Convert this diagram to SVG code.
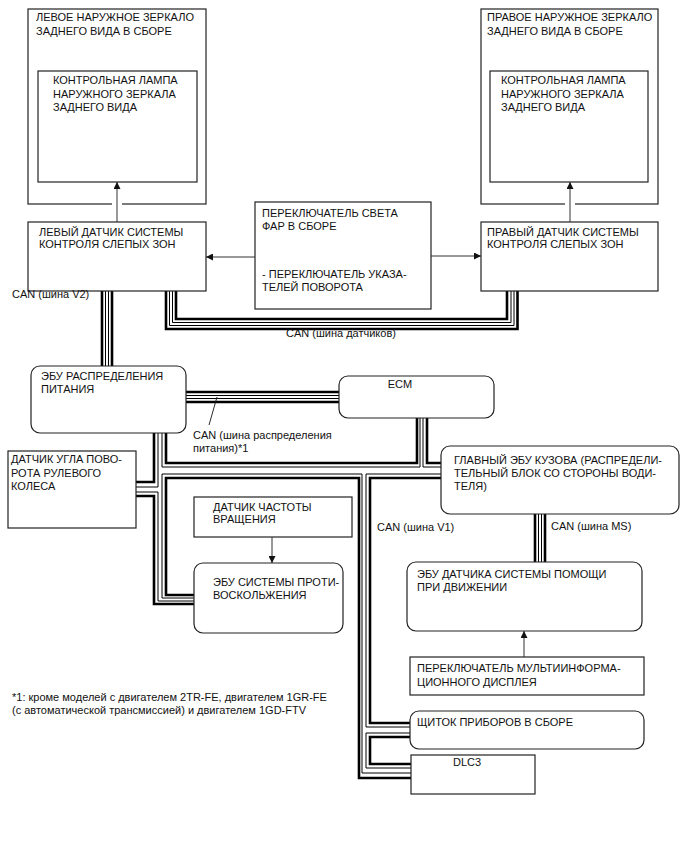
<svg xmlns="http://www.w3.org/2000/svg" width="688" height="852" viewBox="0 0 688 852">
<defs>
<marker id="ah" viewBox="0 0 10 10" refX="10" refY="5" markerWidth="7" markerHeight="7" markerUnits="userSpaceOnUse" orient="auto">
<path d="M0,0 L10,5 L0,10 z" fill="#111"/>
</marker>
<style>
.box{fill:#fff;stroke:#222;stroke-width:1.2}
.t{font-family:"Liberation Sans",Arial,sans-serif;font-size:11px;fill:#111}
.arr{stroke:#333;stroke-width:1;fill:none;marker-end:url(#ah)}
.tk{fill:none;stroke:#000;stroke-width:2.6}
.tn{fill:none;stroke:#000;stroke-width:1}
.gap{stroke:#fff;stroke-width:2}
</style>
</defs>
<rect width="688" height="852" fill="#fff"/>

<g id="connectors">
<!-- sensor bus -->
<path class="tk" d="M176,291 V319 H507 V291"/>
<path class="tn" d="M172.5,291 V322.5 H511 V291"/>
<path class="tn" d="M169.5,291 V325.5 H514 V291"/>
<path class="tk" d="M166,291 V329 H517.5 V291"/>
<!-- V2 -->
<path class="tk" d="M102,291 V366"/>
<path class="tn" d="M105.5,291 V366"/>
<path class="tn" d="M108.5,291 V366"/>
<path class="tk" d="M112,291 V366"/>
<!-- power dist to ECM -->
<path class="tk" d="M186,392 H339"/>
<path class="tn" d="M186,395.5 H339"/>
<path class="tn" d="M186,398.5 H339"/>
<path class="tk" d="M186,402 H339"/>
<line x1="217" y1="397" x2="209" y2="425" stroke="#111" stroke-width="0.9"/>
<!-- trunk -->
<path class="tk" d="M154,433 V482 H136"/>
<path class="tn" d="M158,433 V487 H136"/>
<path class="tn" d="M162,433 V467 H420 V418"/>
<path class="tk" d="M166,433 V463 H417 V418"/>
<path class="tn" d="M423,418 V467 H441"/>
<path class="tk" d="M427,418 V463 H441"/>
<path class="tn" d="M136,492 H158 V601 H194"/>
<path class="tk" d="M136,496 H154 V604 H194"/>
<path class="tn" d="M194,598 H162 V474 H362 V773 H411"/>
<path class="tk" d="M194,595 H166 V478 H359 V778 H411"/>
<path class="tn" d="M441,474 H366 V727 H410"/>
<path class="tk" d="M441,478 H370 V723 H410"/>
<path class="tn" d="M410,733 H366 V768 H411"/>
<path class="tk" d="M410,737 H370 V764 H411"/>
<!-- MS -->
<path class="tk" d="M535,514 V562"/>
<path class="tn" d="M538.5,514 V562"/>
<path class="tn" d="M541.5,514 V562"/>
<path class="tk" d="M545,514 V562"/>
</g>

<g id="mirror-left">
<rect class="box" x="28" y="9" width="178" height="195"/>
<text class="t" x="36" y="21">ЛЕВОЕ НАРУЖНОЕ ЗЕРКАЛО</text>
<text class="t" x="36" y="35">ЗАДНЕГО ВИДА В СБОРЕ</text>
<rect class="box" x="38" y="71" width="159" height="111"/>
<text class="t" x="53" y="84">КОНТРОЛЬНАЯ ЛАМПА</text>
<text class="t" x="53" y="97.5">НАРУЖНОГО ЗЕРКАЛА</text>
<text class="t" x="53" y="111">ЗАДНЕГО ВИДА</text>
</g>
<g id="mirror-right">
<rect class="box" x="481" y="9" width="177" height="195"/>
<text class="t" x="487" y="21">ПРАВОЕ НАРУЖНОЕ ЗЕРКАЛО</text>
<text class="t" x="487" y="35">ЗАДНЕГО ВИДА В СБОРЕ</text>
<rect class="box" x="490" y="71" width="158" height="111"/>
<text class="t" x="501" y="84">КОНТРОЛЬНАЯ ЛАМПА</text>
<text class="t" x="501" y="97.5">НАРУЖНОГО ЗЕРКАЛА</text>
<text class="t" x="501" y="111">ЗАДНЕГО ВИДА</text>
</g>
<g id="sensor-left">
<rect class="box" x="28" y="222" width="178" height="69"/>
<text class="t" x="39" y="236">ЛЕВЫЙ ДАТЧИК СИСТЕМЫ</text>
<text class="t" x="39" y="248">КОНТРОЛЯ СЛЕПЫХ ЗОН</text>
</g>
<g id="headlight-switch">
<rect class="box" x="255" y="202" width="176" height="107"/>
<text class="t" x="262" y="217">ПЕРЕКЛЮЧАТЕЛЬ СВЕТА</text>
<text class="t" x="262" y="230">ФАР В СБОРЕ</text>
<text class="t" x="262" y="278">- ПЕРЕКЛЮЧАТЕЛЬ УКАЗА-</text>
<text class="t" x="262" y="291">ТЕЛЕЙ ПОВОРОТА</text>
</g>
<g id="sensor-right">
<rect class="box" x="481" y="222" width="177" height="69"/>
<text class="t" x="487" y="236">ПРАВЫЙ ДАТЧИК СИСТЕМЫ</text>
<text class="t" x="487" y="248">КОНТРОЛЯ СЛЕПЫХ ЗОН</text>
</g>
<g id="power-dist-ecu">
<rect class="box" x="31" y="366" width="155" height="67" rx="9"/>
<text class="t" x="41" y="380">ЭБУ РАСПРЕДЕЛЕНИЯ</text>
<text class="t" x="41" y="393">ПИТАНИЯ</text>
</g>
<g id="ecm">
<rect class="box" x="339" y="376" width="155" height="42" rx="9"/>
<text class="t" x="400" y="388" text-anchor="middle">ECM</text>
</g>
<g id="steering-sensor">
<rect class="box" x="8" y="451" width="128" height="77"/>
<text class="t" x="11" y="463">ДАТЧИК УГЛА ПОВО-</text>
<text class="t" x="11" y="477">РОТА РУЛЕВОГО</text>
<text class="t" x="11" y="490">КОЛЕСА</text>
</g>
<g id="main-body-ecu">
<rect class="box" x="441" y="446" width="238" height="68" rx="9"/>
<text class="t" x="454" y="464">ГЛАВНЫЙ ЭБУ КУЗОВА (РАСПРЕДЕЛИ-</text>
<text class="t" x="454" y="477">ТЕЛЬНЫЙ БЛОК СО СТОРОНЫ ВОДИ-</text>
<text class="t" x="454" y="490">ТЕЛЯ)</text>
</g>
<g id="wheel-speed-sensor">
<rect class="box" x="194" y="497" width="158" height="40"/>
<text class="t" x="213" y="511">ДАТЧИК ЧАСТОТЫ</text>
<text class="t" x="213" y="523">ВРАЩЕНИЯ</text>
</g>
<g id="anti-skid-ecu">
<rect class="box" x="194" y="563" width="149" height="70" rx="9"/>
<text class="t" x="213" y="586">ЭБУ СИСТЕМЫ ПРОТИ-</text>
<text class="t" x="213" y="599">ВОСКОЛЬЖЕНИЯ</text>
</g>
<g id="driving-support-ecu">
<rect class="box" x="407" y="562" width="235" height="69" rx="9"/>
<text class="t" x="417" y="578">ЭБУ ДАТЧИКА СИСТЕМЫ ПОМОЩИ</text>
<text class="t" x="417" y="591">ПРИ ДВИЖЕНИИ</text>
</g>
<g id="multi-info-switch">
<rect class="box" x="410" y="657" width="234" height="38"/>
<text class="t" x="417" y="672">ПЕРЕКЛЮЧАТЕЛЬ МУЛЬТИИНФОРМА-</text>
<text class="t" x="417" y="686">ЦИОННОГО ДИСПЛЕЯ</text>
</g>
<g id="instrument-cluster">
<rect class="box" x="410" y="711" width="234" height="38" rx="9"/>
<text class="t" x="417" y="726">ЩИТОК ПРИБОРОВ В СБОРЕ</text>
</g>
<g id="dlc3">
<rect class="box" x="411" y="755" width="124" height="39"/>
<text class="t" x="467" y="766" text-anchor="middle">DLC3</text>
</g>

<g id="arrows">
<line class="gap" x1="112" y1="204" x2="122" y2="204"/>
<line class="gap" x1="565" y1="204" x2="575" y2="204"/>
<line class="arr" x1="117" y1="222" x2="117" y2="182"/>
<line class="arr" x1="570" y1="222" x2="570" y2="182"/>
<line class="arr" x1="255" y1="257" x2="206" y2="257"/>
<line class="arr" x1="431" y1="256" x2="481" y2="256"/>
<line class="arr" x1="272" y1="537" x2="272" y2="563"/>
<line class="arr" x1="524" y1="657" x2="524" y2="631"/>
</g>

<g id="labels">
<text class="t" x="12" y="298">CAN (шина V2)</text>
<text class="t" x="286" y="337">CAN (шина датчиков)</text>
<text class="t" x="193" y="439">CAN (шина распределения</text>
<text class="t" x="193" y="452">питания)*1</text>
<text class="t" x="377" y="531">CAN (шина V1)</text>
<text class="t" x="551" y="530">CAN (шина MS)</text>
<text class="t" x="12" y="701">*1: кроме моделей с двигателем 2TR-FE, двигателем 1GR-FE</text>
<text class="t" x="12" y="714">(с автоматической трансмиссией) и двигателем 1GD-FTV</text>
</g>
</svg>
